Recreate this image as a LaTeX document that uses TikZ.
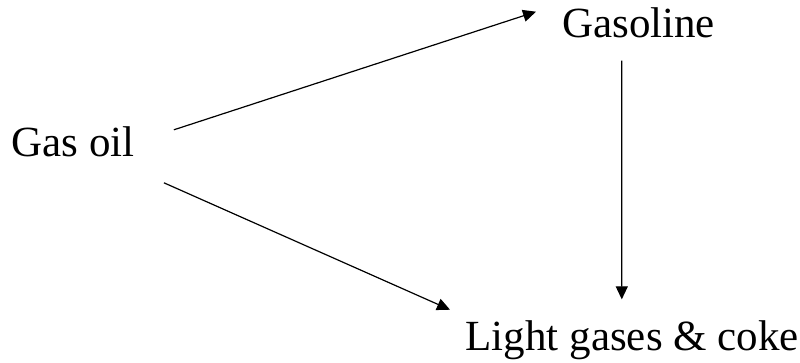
\documentclass[tikz,border=0pt]{standalone}
\usepackage{fontspec}
\setmainfont{Liberation Serif}
\usetikzlibrary{arrows.meta}
\begin{document}
\begin{tikzpicture}[x=1pt,y=-1pt,
  lbl/.style={inner sep=0pt,font=\fontsize{43}{50}\selectfont},
  arr/.style={line width=1.2pt,-{Triangle[length=13pt,width=12pt]}}]
\useasboundingbox (0,0) rectangle (800,363);
\node[lbl,anchor=base west] (gasoil) at (11.5,157) {Gas oil};
\node[lbl,anchor=base west] (gasoline) at (562,38) {Gasoline};
\node[lbl,anchor=base west] (light) at (465.5,350) {Light gases \& coke};
\draw[arr] ([shift={(39,-12.5)}]gasoil.east) -- ([shift={(-26,-11.6)}]gasoline.west);
\draw[arr] ([shift={(29,40.5)}]gasoil.east) -- ([shift={(-15.5,-30)}]light.west);
\draw[arr] ([shift={(-16.8,22)}]gasoline.south) -- ([shift={(-10.5,-20.6)}]light.north);
\end{tikzpicture}
\end{document}
